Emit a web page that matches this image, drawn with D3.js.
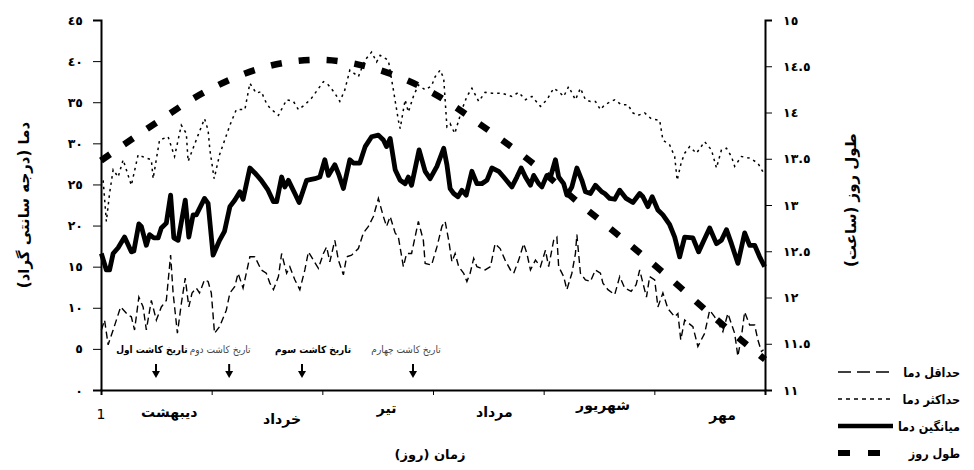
<!DOCTYPE html>
<html>
<head>
<meta charset="utf-8">
<script src="https://cdnjs.cloudflare.com/ajax/libs/d3/7.8.5/d3.min.js"></script>
<style>
  body { margin: 0; background: #fff; }
  text { font-family: "DejaVu Sans", sans-serif; fill: #000; }
  .narrow { font-family: "DejaVu Sans Condensed", "DejaVu Sans", sans-serif; }
</style>
</head>
<body>
<svg id="chart" width="974" height="470"></svg>
<script>
// day (0 = 1 ordibehesht), temperature in C
var minTemp = [[0.1,7.3],[1.0,8.5],[2.0,5.5],[3.4,7.3],[4.3,8.5],[5.5,10.1],[7.6,9.1],[8.5,8.9],[9.4,7.3],[10.6,11.3],[11.8,10.1],[12.7,7.3],[14.1,10.9],[15.5,8.5],[16.9,10.1],[18.3,10.9],[19.5,16.4],[20.2,11.8],[21.4,6.9],[22.5,10.5],[23.6,13.6],[24.6,10.1],[25.5,11.8],[26.7,12.4],[27.6,11.8],[29.0,13.4],[30.0,13.2],[30.9,11.8],[31.8,6.9],[33.2,7.7],[35.1,9.7],[36.1,11.8],[37.5,12.6],[38.4,14.2],[39.8,12.4],[41.7,16.2],[43.1,16.2],[44.9,14.6],[46.3,14.2],[47.3,13.0],[48.3,12.2],[49.7,13.8],[50.6,16.6],[52.0,14.2],[52.9,15.0],[54.3,13.4],[55.7,12.2],[57.1,14.6],[58.1,16.8],[59.5,15.8],[60.9,14.8],[62.3,16.6],[63.2,17.4],[64.1,15.6],[65.5,18.2],[66.5,15.8],[67.9,14.0],[68.8,16.2],[70.2,16.4],[72.1,17.2],[73.5,19.1],[74.9,19.9],[76.3,21.1],[77.7,23.3],[79.1,21.1],[80.0,19.9],[81.0,21.1],[82.4,19.1],[83.3,18.6],[84.7,15.0],[85.6,16.6],[87.0,16.6],[88.9,20.5],[90.3,18.2],[90.8,15.4],[92.6,15.2],[94.1,17.4],[95.5,19.9],[96.4,20.5],[97.4,18.2],[98.3,15.6],[99.2,16.6],[100.2,15.0],[101.6,14.2],[102.5,13.2],[103.4,14.2],[104.4,16.0],[105.3,15.0],[107.6,14.6],[109.1,15.0],[110.4,17.8],[111.8,17.2],[113.2,15.8],[114.7,14.6],[115.6,14.2],[117.0,15.8],[118.4,17.8],[119.3,16.6],[120.3,14.6],[121.7,15.8],[123.1,15.0],[124.5,17.0],[125.4,15.0],[126.8,18.2],[127.7,18.6],[128.2,15.0],[129.6,13.8],[130.5,12.2],[131.9,14.2],[132.9,16.6],[133.3,18.9],[134.3,14.2],[135.7,13.4],[137.1,13.2],[138.5,14.6],[139.9,14.2],[140.6,13.0],[142.0,12.2],[143.9,11.6],[145.3,13.8],[146.7,12.4],[148.5,12.0],[149.9,12.8],[150.9,14.6],[151.8,13.0],[152.8,11.3],[153.7,13.8],[155.1,13.4],[156.0,10.1],[157.4,11.8],[158.8,9.9],[160.7,8.9],[161.6,9.3],[162.4,6.1],[163.5,8.5],[165.8,7.7],[167.2,5.3],[169.1,6.9],[170.5,9.7],[171.9,8.9],[174.2,7.1],[175.6,9.3],[177.5,6.9],[178.4,4.1],[179.4,6.5],[180.3,9.5],[181.7,7.9],[183.1,7.9],[184.0,6.1],[185.0,4.7],[185.6,4.9]];

var maxTemp = [[0.6,25.5],[1.5,20.5],[2.4,23.9],[3.4,26.8],[4.8,25.9],[6.2,28.0],[8.5,24.9],[10.4,28.6],[12.7,28.2],[14.1,28.0],[14.6,25.7],[16.4,30.4],[18.8,30.8],[20.6,28.4],[22.5,32.2],[23.9,31.2],[24.4,27.8],[27.2,31.0],[29.0,33.0],[30.0,31.6],[30.5,29.2],[31.7,25.7],[33.2,28.6],[36.1,32.2],[37.9,34.1],[40.3,34.1],[41.7,37.3],[43.5,36.1],[44.9,36.3],[46.3,34.9],[47.3,34.3],[49.7,33.4],[52.0,35.3],[53.9,35.1],[55.3,34.1],[57.1,34.7],[59.0,35.5],[62.3,37.5],[63.7,37.1],[65.5,36.1],[66.9,35.1],[68.3,36.5],[69.7,38.9],[72.1,38.1],[73.9,40.1],[75.8,41.1],[77.2,39.9],[78.2,40.7],[80.5,40.1],[81.9,36.5],[83.3,32.8],[83.8,31.8],[85.2,35.3],[86.1,33.8],[87.5,35.7],[88.9,37.1],[90.8,36.5],[92.6,37.0],[93.6,38.1],[95.0,38.9],[96.0,37.9],[96.9,32.0],[97.8,32.4],[99.1,31.2],[100.2,32.8],[101.1,34.1],[102.5,35.7],[103.9,36.7],[105.8,35.1],[107.6,36.2],[109.5,36.1],[112.3,36.1],[115.1,35.7],[117.0,36.2],[118.9,35.3],[120.7,35.7],[123.1,34.5],[124.9,35.3],[126.8,36.7],[128.2,36.3],[129.6,35.7],[131.0,36.9],[132.9,35.3],[134.3,36.7],[135.7,35.3],[137.1,35.1],[138.5,35.1],[139.9,34.1],[141.1,34.7],[143.9,35.3],[145.7,34.7],[147.6,34.7],[149.0,33.7],[150.4,33.4],[152.3,33.7],[154.1,33.0],[156.5,32.8],[157.4,30.4],[159.3,29.8],[160.7,28.4],[161.4,25.5],[162.5,27.6],[163.5,28.8],[164.9,29.6],[166.8,28.8],[169.1,30.2],[171.0,29.2],[172.4,27.0],[173.8,29.2],[175.2,29.4],[176.6,28.4],[177.5,27.2],[179.4,28.4],[181.7,28.2],[184.0,27.6],[185.6,26.4]];

var meanTemp = [[0.1,16.6],[1.5,14.6],[2.4,14.6],[3.4,16.6],[4.8,17.3],[6.6,18.6],[8.5,16.8],[9.2,16.9],[10.6,20.2],[11.3,19.9],[12.7,17.6],[13.6,18.9],[14.8,18.5],[16.0,18.5],[16.9,19.7],[18.3,20.3],[19.5,23.7],[20.4,18.5],[21.6,18.2],[23.6,23.1],[24.6,18.6],[25.8,21.3],[26.7,21.3],[29.0,23.3],[30.0,22.7],[31.4,16.4],[33.2,18.2],[34.6,19.3],[36.1,22.3],[37.5,23.1],[38.9,24.1],[39.8,23.2],[41.7,27.0],[43.1,26.4],[44.9,25.5],[46.8,24.3],[48.3,22.9],[49.2,22.9],[50.6,25.9],[51.5,24.7],[52.5,25.5],[54.3,23.9],[55.5,22.8],[57.6,25.5],[59.9,25.7],[61.3,25.9],[62.7,28.0],[63.7,26.1],[65.5,27.4],[66.7,26.1],[67.9,24.5],[69.7,28.0],[70.7,27.6],[72.5,27.6],[74.0,29.6],[75.8,30.8],[77.7,31.0],[79.1,30.4],[80.0,29.6],[81.0,30.6],[82.4,26.8],[83.8,25.5],[85.2,25.1],[86.1,25.9],[87.0,24.9],[89.1,29.2],[90.8,26.6],[92.2,25.7],[94.1,27.2],[96.0,29.4],[96.9,27.4],[97.8,24.5],[98.8,23.9],[100.0,23.5],[101.1,24.3],[102.3,23.7],[103.9,26.6],[105.3,25.1],[106.7,25.1],[108.1,25.5],[109.5,27.0],[111.4,26.6],[112.8,25.9],[115.1,24.7],[116.5,25.9],[117.7,27.0],[118.9,25.9],[120.3,24.9],[121.2,26.1],[122.6,25.1],[123.5,24.7],[124.9,26.1],[125.9,25.9],[127.3,28.0],[128.2,25.9],[129.6,25.1],[130.5,23.7],[131.9,24.7],[133.3,27.0],[134.7,25.5],[135.7,24.1],[137.1,23.9],[138.5,24.9],[140.3,24.1],[141.1,23.9],[142.5,23.3],[143.9,23.2],[145.3,24.3],[147.1,23.3],[149.0,22.8],[150.9,23.9],[151.8,23.5],[153.2,22.3],[154.4,23.5],[156.0,21.9],[157.4,21.3],[159.3,20.1],[160.7,18.6],[162.1,16.2],[163.5,18.6],[165.8,18.5],[167.4,16.8],[168.9,18.2],[170.5,19.7],[172.4,17.8],[173.8,18.2],[175.2,19.5],[176.6,17.8],[178.4,15.4],[180.3,19.1],[181.7,17.6],[183.1,17.6],[184.5,16.2],[185.9,15.0]];

// day length in hours
var dayLength = [[0,13.48],[14.3,13.86],[29,14.22],[44,14.47],[61,14.57],[77,14.47],[93,14.21],[107,13.85],[121,13.45],[133,13.05],[146,12.64],[159,12.22],[171,11.81],[186,11.33]];

var months = ["دیبهشت", "خرداد", "تیر", "مرداد", "شهریور", "مهر"];
var monthDays = 31;
var leftTicks = [0, 5, 10, 15, 20, 25, 30, 35, 40, 45];
var rightTicks = [11, 11.5, 12, 12.5, 13, 13.5, 14, 14.5, 15];

var sowingNames = ["تاریخ کاشت اول", "تاریخ کاشت دوم", "تاریخ کاشت سوم", "تاریخ کاشت چهارم"];
var sowingDays = [15.4, 35.9, 56.3, 87.4];

var legendNames = ["حداقل دما", "حداکثر دما", "میانگین دما", "طول روز"];

// layout only
var monthLabelDx = [13, 15, 9, 6, 4, 13];
var monthLabelY = [417, 424, 413, 417, 410, 420];
var sowLabelDx = [-4, -9, 11, -7];
var sowBold = [true, false, true, false];

function arabicDigits(s) {
    return String(s).replace(/[0-9]/g, function(c) { return String.fromCharCode(0x0660 + (+c)); });
}

var svg = d3.select("#chart");

var x = d3.scaleLinear().domain([0, 186]).range([101, 765]);
var y = d3.scaleLinear().domain([0, 45]).range([390, 20]);
var y2 = d3.scaleLinear().domain([11, 15]).range([390, 20]);

// axes
var leftAxis = d3.axisLeft(y).tickValues(leftTicks).tickSize(8).tickPadding(10)
    .tickFormat(function(d) { return arabicDigits(d); });
var rightAxis = d3.axisRight(y2).tickValues(rightTicks).tickSize(7).tickPadding(11)
    .tickFormat(function(d) { return arabicDigits(d); });
var bottomAxis = d3.axisBottom(x).tickValues(d3.range(0, 187, monthDays)).tickSize(5).tickFormat("");

svg.append("g").attr("transform", "translate(101,0)").call(leftAxis);
svg.append("g").attr("transform", "translate(765,0)").call(rightAxis);
svg.append("g").attr("transform", "translate(0,390)").call(bottomAxis);

svg.selectAll(".domain").attr("stroke", "#000").attr("stroke-width", 2);
svg.selectAll(".tick line").attr("stroke", "#000").attr("stroke-width", 1);
svg.selectAll(".tick text")
    .attr("font-family", "DejaVu Sans")
    .attr("font-size", 12.5)
    .attr("font-weight", "bold");

// lines
var line = d3.line()
    .x(function(d) { return x(d[0]); })
    .y(function(d) { return y(d[1]); });

var dayLine = d3.line()
    .x(function(d) { return x(d[0]); })
    .y(function(d) { return y2(d[1]); })
    .curve(d3.curveMonotoneX);

svg.append("path").datum(minTemp)
    .attr("d", line).attr("fill", "none").attr("stroke", "#000")
    .attr("stroke-width", 1.4).attr("stroke-dasharray", "7,4");

svg.append("path").datum(maxTemp)
    .attr("d", line).attr("fill", "none").attr("stroke", "#000")
    .attr("stroke-width", 1.5).attr("stroke-dasharray", "2.5,4");

svg.append("path").datum(dayLength)
    .attr("d", dayLine).attr("fill", "none").attr("stroke", "#000")
    .attr("stroke-width", 6.5).attr("stroke-dasharray", "11,17");

svg.append("path").datum(meanTemp)
    .attr("d", line).attr("fill", "none").attr("stroke", "#000")
    .attr("stroke-width", 4.8).attr("stroke-linejoin", "round");

// sowing dates
var sow = svg.selectAll(".sow").data(sowingDays).enter().append("g")
    .attr("transform", function(d) { return "translate(" + x(d) + ",0)"; });

sow.append("text")
    .attr("class", "narrow")
    .attr("x", function(d, i) { return sowLabelDx[i]; })
    .attr("y", 353)
    .attr("text-anchor", "middle")
    .attr("font-size", 10)
    .attr("font-weight", function(d, i) { return sowBold[i] ? "bold" : "normal"; })
    .style("fill", function(d, i) { return sowBold[i] ? "#000" : "#444"; })
    .text(function(d, i) { return sowingNames[i]; });

sow.append("line")
    .attr("x1", 0).attr("x2", 0).attr("y1", 364).attr("y2", 372)
    .attr("stroke", "#000").attr("stroke-width", 2);

sow.append("path")
    .attr("d", "M-4,371L4,371L0,378Z")
    .attr("fill", "#000");

// x labels
svg.append("text")
    .attr("x", x(0)).attr("y", 419)
    .attr("text-anchor", "middle")
    .attr("font-size", 14)
    .text("1");

svg.selectAll(".month").data(months).enter().append("text")
    .attr("x", function(d, i) { return x(i * monthDays + monthDays / 2) + monthLabelDx[i]; })
    .attr("y", function(d, i) { return monthLabelY[i]; })
    .attr("text-anchor", "middle")
    .attr("font-size", 14)
    .attr("font-weight", "bold")
    .text(function(d) { return d; });

// axis titles
svg.append("text")
    .attr("transform", "translate(29,205) rotate(-90)")
    .attr("text-anchor", "middle")
    .attr("font-size", 15)
    .attr("font-weight", "bold")
    .text("دما (درجه سانتی گراد)");

svg.append("text")
    .attr("transform", "translate(856,200) rotate(-90)")
    .attr("text-anchor", "middle")
    .attr("font-size", 15)
    .attr("font-weight", "bold")
    .text("طول روز (ساعت)");

svg.append("text")
    .attr("x", 430).attr("y", 459)
    .attr("text-anchor", "middle")
    .attr("font-size", 13)
    .attr("font-weight", "bold")
    .text("زمان (روز)");

// legend
var legendStyles = [
    { w: 1.5, dash: "13,6" },
    { w: 1.5, dash: "4,4" },
    { w: 4.5, dash: null },
    { w: 6, dash: "12,18" }
];

var legend = svg.selectAll(".legend").data(legendNames).enter().append("g")
    .attr("transform", function(d, i) { return "translate(0," + (372 + i * 27) + ")"; });

legend.append("line")
    .attr("x1", 838).attr("x2", 893)
    .attr("stroke", "#000")
    .attr("stroke-width", function(d, i) { return legendStyles[i].w; })
    .attr("stroke-dasharray", function(d, i) { return legendStyles[i].dash; });

legend.append("text")
    .attr("class", "narrow")
    .attr("x", 960).attr("y", 5)
    .attr("text-anchor", "end")
    .attr("font-size", 12.5)
    .attr("font-weight", "bold")
    .text(function(d) { return d; });
</script>
</body>
</html>
